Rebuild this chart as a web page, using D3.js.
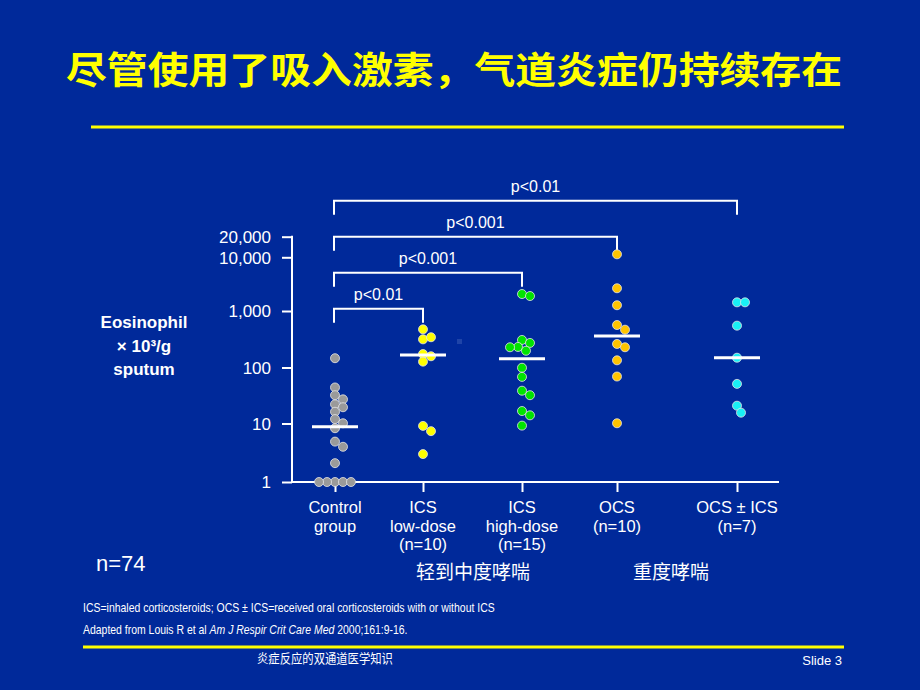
<!DOCTYPE html>
<html lang="zh">
<head>
<meta charset="utf-8">
<title>Eosinophil sputum</title>
<style>
body { margin: 0; background: #00299a; }
svg { display: block; }
.sans { font-family: "Liberation Sans", Arial, sans-serif; fill: #fff; }
.cjk { font-family: "Noto Sans CJK SC", sans-serif; }
</style>
</head>
<body>
<div id="chart"></div>
<script src="https://cdn.jsdelivr.net/npm/d3@7/dist/d3.min.js"></script>
<script>
// groups along the x axis
var groups = ["control", "icsLow", "icsHigh", "ocs", "ocsIcs"];
var groupLabels = [
	["Control", "group"],
	["ICS", "low-dose", "(n=10)"],
	["ICS", "high-dose", "(n=15)"],
	["OCS", "(n=10)"],
	["OCS \u00b1 ICS", "(n=7)"]
];
// eosinophils x10^3/g sputum
var control = [146, 44, 32, 27, 22, 19.5, 16.2, 12, 10.1, 8.3, 4.9, 4.0, 2.1, 1, 1, 1, 1, 1];
var icsLow = [474, 315, 343, 173, 158, 127, 9.1, 7.4, 3.0];
var icsHigh = [2070, 1900, 307, 272, 231, 228, 198, 99, 68, 38.5, 32, 16.7, 14, 9.2];
var ocs = [11060, 2650, 1280, 565, 467, 261, 228, 134, 69, 10.1];
var ocsIcs = [1450, 1450, 550, 149, 51, 20.8, 15.6];
var medians = [8.8, 166, 143, 361, 149];
var yTicks = [1, 10, 100, 1000, 10000, 20000];
var brackets = [
	{from: 0, to: 1, label: "p<0.01"},
	{from: 0, to: 2, label: "p<0.001"},
	{from: 0, to: 3, label: "p<0.001"},
	{from: 0, to: 4, label: "p<0.01"}
];
var dotColors = ["#9a9a9a", "#ffff00", "#00e400", "#ffc400", "#19f0f5"];
var series = [control, icsLow, icsHigh, ocs, ocsIcs];

var W = 920, H = 690;
var svg = d3.select("#chart").append("svg").attr("width", W).attr("height", H);
svg.append("rect").attr("width", W).attr("height", H).attr("fill", "#00299a");

// title + rules
svg.append("text").attr("class", "cjk").attr("x", 66).attr("y", 84)
	.attr("font-size", 37).attr("font-weight", "bold").attr("fill", "#ffff00")
	.attr("textLength", 776).attr("lengthAdjust", "spacingAndGlyphs")
	.text("尽管使用了吸入激素，气道炎症仍持续存在");
svg.append("line").attr("x1", 91).attr("x2", 844).attr("y1", 127).attr("y2", 127)
	.attr("stroke", "#ffff00").attr("stroke-width", 3);
svg.append("line").attr("x1", 83).attr("x2", 844).attr("y1", 647).attr("y2", 647)
	.attr("stroke", "#ffff00").attr("stroke-width", 3);

// the slide's log axis is hand drawn, decades are not quite even
var yLog = d3.scaleLinear().domain([0, 1, 2, 3, 4, Math.log10(20000)])
	.range([482, 423.5, 367.5, 311, 257.3, 236.7]);
var y = function(v) { return yLog(Math.log10(v)); };
var x = d3.scaleOrdinal().domain(groups).range([335, 423, 522, 617, 737]);

// y axis
var yAxis = svg.append("g").attr("transform", "translate(292,0)")
	.call(d3.axisLeft(yLog).tickValues(yTicks.map(Math.log10)).tickSize(10).tickSizeOuter(0).tickPadding(11)
		.tickFormat(function(d) { return d3.format(",")(Math.round(Math.pow(10, d))); }));
yAxis.select(".domain").remove();
yAxis.selectAll("line").attr("stroke", "#fff").attr("stroke-width", 2);
yAxis.selectAll("text").attr("class", "sans").attr("font-size", 17).attr("fill", "#fff")
	.attr("dy", "0.34em");
yAxis.append("line").attr("y1", y(20000) - 1).attr("y2", 483).attr("stroke", "#fff").attr("stroke-width", 2);

// x axis
var xAxis = svg.append("g").attr("transform", "translate(0,482)")
	.call(d3.axisBottom(x).tickSize(10).tickFormat(""));
xAxis.select(".domain").remove();
xAxis.selectAll("line").attr("stroke", "#fff").attr("stroke-width", 2);
xAxis.append("line").attr("x1", 291).attr("x2", 779).attr("stroke", "#fff").attr("stroke-width", 2);

groups.forEach(function(g, i) {
	var t = svg.append("text").attr("class", "sans").attr("font-size", 16.5)
		.attr("text-anchor", "middle");
	groupLabels[i].forEach(function(s, j) {
		t.append("tspan").attr("x", x(g)).attr("y", 513 + j * 18.5).text(s);
	});
});

// y label
var yl = svg.append("text").attr("class", "sans").attr("font-size", 17)
	.attr("font-weight", "bold").attr("text-anchor", "middle");
["Eosinophil", "\u00d7 10\u00b3/g", "sputum"].forEach(function(s, j) {
	yl.append("tspan").attr("x", 144).attr("y", [328, 352, 375][j]).text(s);
});

// significance brackets
brackets.forEach(function(b, i) {
	var lvl = y(20000) + (2 - i) * 36,
		x0 = x(groups[b.from]) - 1, x1 = x(groups[b.to]);
	svg.append("path").attr("fill", "none").attr("stroke", "#fff").attr("stroke-width", 2)
		.attr("d", "M" + x0 + "," + (lvl + 14) + "V" + lvl + "H" + x1 + "V" + (lvl + 14));
	svg.append("text").attr("class", "sans").attr("font-size", 16).attr("text-anchor", "middle")
		.attr("x", (x0 + x1) / 2).attr("y", lvl - 8.5).text(b.label);
});

// dots, dodged sideways so they do not pile up
var r = 4.5, minD = 7, step = 4;
series.forEach(function(vals, i) {
	var cx = x(groups[i]), placed = [];
	vals.forEach(function(v) {
		var py = y(v), px, k = 0;
		for (;;) {
			px = cx + (k % 2 ? 1 : -1) * Math.ceil(k / 2) * step;
			if (placed.every(function(p) { return Math.hypot(p[0] - px, p[1] - py) >= minD; })) break;
			k++;
		}
		placed.push([px, py]);
	});
	svg.append("g").selectAll("circle").data(placed).join("circle")
		.attr("cx", function(d) { return d[0]; }).attr("cy", function(d) { return d[1]; })
		.attr("r", r).attr("fill", dotColors[i]).attr("stroke", "#e6e6e6").attr("stroke-width", 0.8);
	svg.append("line").attr("x1", cx - 23).attr("x2", cx + 23)
		.attr("y1", y(medians[i])).attr("y2", y(medians[i]))
		.attr("stroke", "#fff").attr("stroke-width", 3);
});

// stray mark in the source
svg.append("rect").attr("x", 457).attr("y", 339).attr("width", 5).attr("height", 5).attr("fill", "#1f44a8");

// bottom texts
svg.append("text").attr("class", "sans").attr("x", 96).attr("y", 571).attr("font-size", 22).text("n=74");
svg.append("text").attr("class", "cjk").attr("x", 473).attr("y", 579).attr("font-size", 19)
	.attr("fill", "#fff").attr("text-anchor", "middle").text("轻到中度哮喘");
svg.append("text").attr("class", "cjk").attr("x", 671).attr("y", 579).attr("font-size", 19)
	.attr("fill", "#fff").attr("text-anchor", "middle").text("重度哮喘");

// squeeze a line horizontally into the width it has on the slide
function fit(sel, x0, y0, width) {
	var w = sel.node().getComputedTextLength();
	sel.attr("transform", "translate(" + x0 + "," + y0 + ") scale(" + (width / w) + ",1)");
}
var n1 = svg.append("text").attr("class", "sans").attr("font-size", 13)
	.text("ICS=inhaled corticosteroids; OCS \u00b1 ICS=received oral corticosteroids with or without ICS");
fit(n1, 83, 612, 412);
var n2 = svg.append("text").attr("class", "sans").attr("font-size", 13);
n2.append("tspan").text("Adapted from Louis R et al ");
n2.append("tspan").attr("font-style", "italic").text("Am J Respir Crit Care Med");
n2.append("tspan").text(" 2000;161:9-16.");
fit(n2, 83, 634, 325);

var ft = svg.append("text").attr("class", "cjk").attr("font-size", 13)
	.attr("fill", "#fff").text("炎症反应的双通道医学知识");
fit(ft, 257, 663, 136);
svg.append("text").attr("class", "sans").attr("x", 842).attr("y", 665).attr("font-size", 13)
	.attr("text-anchor", "end").text("Slide 3");
</script>
</body>
</html>
